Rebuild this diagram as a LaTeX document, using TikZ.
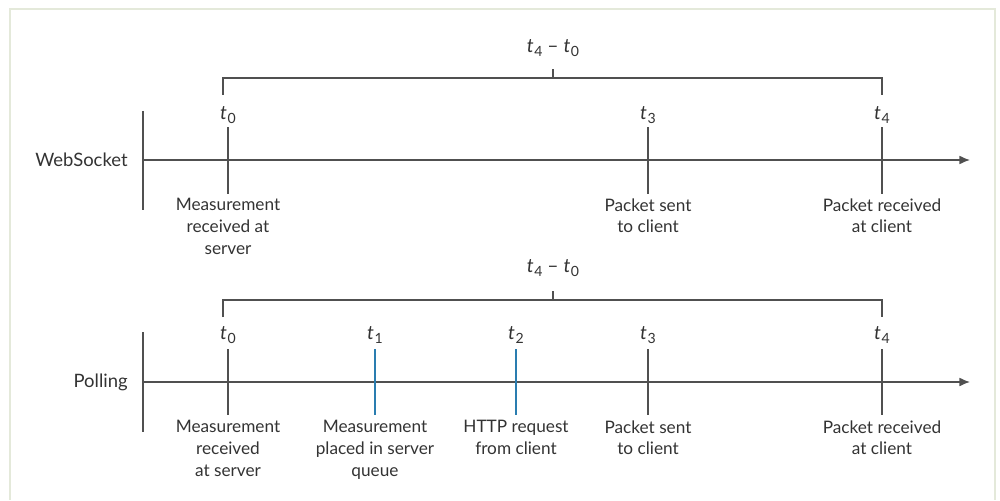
\documentclass[tikz,border=0pt]{standalone}
\usepackage{fontspec}
\setmainfont{Lato}
\usetikzlibrary{arrows.meta}
\definecolor{framegreen}{HTML}{E4E9DA}
\definecolor{tickblue}{HTML}{2A7DB0}
\definecolor{linegray}{HTML}{505050}
\newcommand{\tsub}[1]{\textit{t}\kern0.3pt\raisebox{-0.4ex}{\footnotesize #1}}

\begin{document}
\begin{tikzpicture}[x=0.02cm, y=-0.02cm,
    line/.style={draw=linegray, line width=0.7pt},
    marker/.style={draw=linegray, line width=0.9pt},
    bluemarker/.style={draw=tickblue, line width=1.4pt},
    caption/.style={align=center, anchor=north, inner sep=0pt, text=black!80,
      font=\fontsize{9.8}{12.4}\selectfont},
    tlabel/.style={inner sep=0pt, text=black!80, font=\fontsize{11}{13}\selectfont},
    rowname/.style={anchor=east, inner sep=0pt, text=black!80, font=\fontsize{10.5}{12.6}\selectfont}
    ]
    \useasboundingbox (0,0) rectangle (1000,500);
    \draw[framegreen, line width=1.5pt] (10,500) -- (10,9) -- (995,9) -- (995,500);

    % WebSocket
    \node[rowname] (wsname) at (128,160) {WebSocket};
    \coordinate (wsstart) at (143,160);
    \coordinate (wsend) at (970,160);
    \draw[line] (143,111) -- (143,210);
    \draw[line, -{Latex[length=6pt,width=5pt]}] (wsstart) -- (wsend);
    \foreach \x/\i in {228/0, 648/3, 882/4} {
      \node[tlabel] (wst\i) at (\x,115) {\tsub{\i}};
      \draw[marker] (\x,127) -- (\x,194);
    }
    \node[caption] (wsc0) at (228,198) {Measurement\\received at\\server};
    \node[caption] (wsc3) at (648,198) {Packet sent\\to client};
    \node[caption] (wsc4) at (882,198) {Packet received\\at client};
    \draw[line] (223,95) -- (223,78) -- (882,78) -- (882,95);
    \draw[line] (553,78) -- (553,69);
    \node[tlabel] (wsspan) at (553,48) {\tsub{4} -- \tsub{0}};

    % Polling
    \node[rowname] (pollname) at (128,382) {Polling};
    \coordinate (pollstart) at (143,382);
    \coordinate (pollend) at (970,382);
    \draw[line] (143,332) -- (143,432);
    \draw[line, -{Latex[length=6pt,width=5pt]}] (pollstart) -- (pollend);
    \foreach \x/\i/\s in {228/0/marker, 375/1/bluemarker, 516/2/bluemarker, 648/3/marker, 882/4/marker} {
      \node[tlabel] (pollt\i) at (\x,335) {\tsub{\i}};
      \draw[\s] (\x,349) -- (\x,415);
    }
    \node[caption] (pollc0) at (228,420) {Measurement\\received\\at server};
    \node[caption] (pollc1) at (375,420) {Measurement\\placed in server\\queue};
    \node[caption] (pollc2) at (516,420) {HTTP request\\from client};
    \node[caption] (pollc3) at (648,420) {Packet sent\\to client};
    \node[caption] (pollc4) at (882,420) {Packet received\\at client};
    \draw[line] (223,317) -- (223,300) -- (882,300) -- (882,317);
    \draw[line] (553,300) -- (553,291);
    \node[tlabel] (pollspan) at (553,268) {\tsub{4} -- \tsub{0}};
  \end{tikzpicture}
\end{document}
